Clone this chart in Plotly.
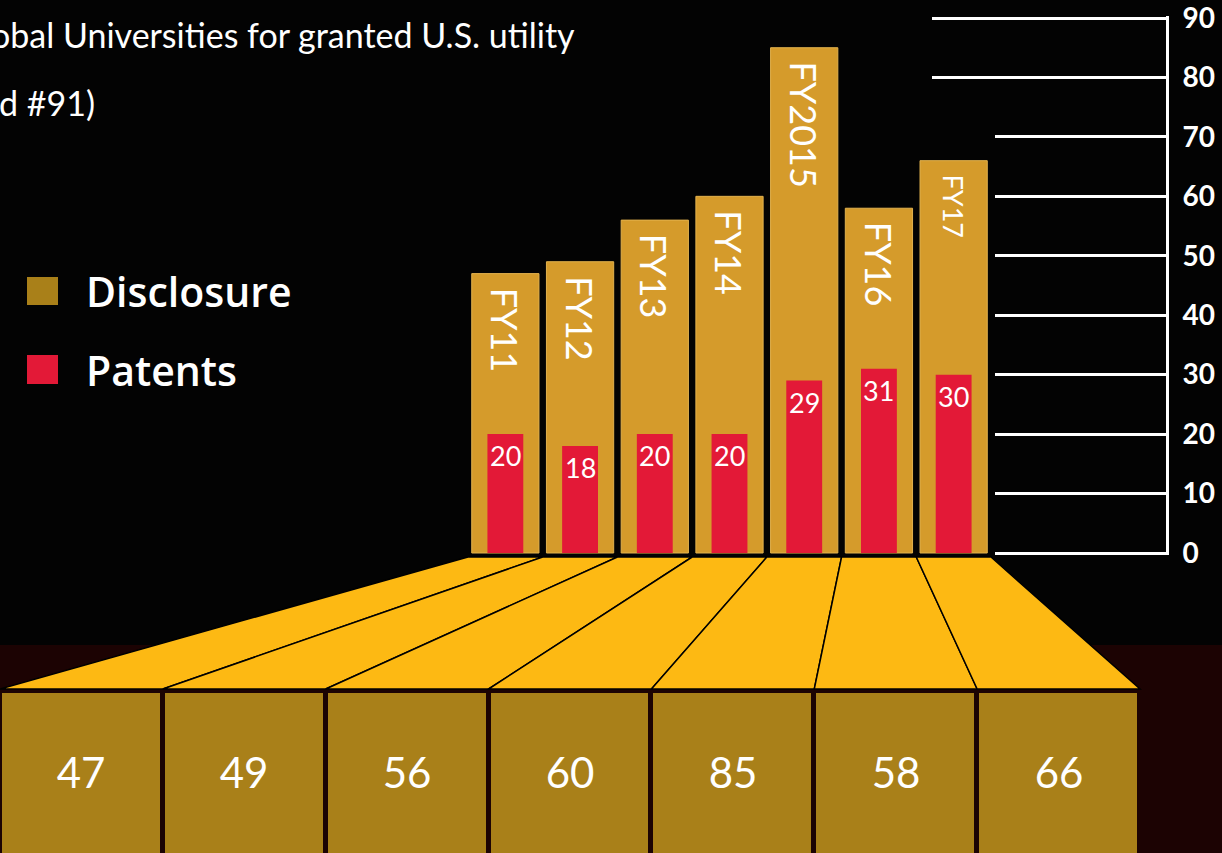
import plotly.graph_objects as go

W, H = 1222, 853

# ---------------- data ----------------
categories = ["FY11", "FY12", "FY13", "FY14", "FY2015", "FY16", "FY17"]
disclosure = [47, 49, 56, 60, 85, 58, 66]
patents = [20, 18, 20, 20, 29, 31, 30]
y_ticks = [0, 10, 20, 30, 40, 50, 60, 70, 80, 90]
y_tick_labels = ["0", "10", "20", "30", "40", "50", "60", "70", "80", "90"]
long_ticks = [80, 90]
legend_names = ["Disclosure", "Patents"]
title_line1 = "obal Universities for granted U.S. utility"
title_line2 = "d #91)"

# ---------------- style ----------------
GOLD = "#D59B2B"
RED = "#E31937"
YELLOW = "#FDB913"
BOX = "#A98019"
BG = "#030303"
BAND = "#1c0303"


def px(x):
    return x / W


def py(y):
    return 1 - y / H


# y axis: value 0 at pixel 553, value 90 at pixel 18; small padding so end ticks show
Y0_PX, Y90_PX = 553, 18
unit = (Y0_PX - Y90_PX) / 90.0
pad = 0.4
y_range = [-pad, 90 + pad]
main_x = [px(468), px(991)]
main_y = [py(Y0_PX + pad * unit), py(Y90_PX - pad * unit)]
box_x = [px(0), px(1140)]
box_y = [py(853), py(693)]
axis_pos = px(1167)

fig = go.Figure()

fig.add_trace(go.Bar(
    x=categories, y=disclosure, width=0.9, name=legend_names[0],
    marker=dict(color=GOLD, line=dict(color="#E3B24E", width=1)),
    xaxis="x", yaxis="y", hoverinfo="skip", showlegend=False,
))
fig.add_trace(go.Bar(
    x=categories, y=patents, width=0.48, name=legend_names[1],
    marker=dict(color=RED, line=dict(width=0)),
    xaxis="x", yaxis="y", hoverinfo="skip", showlegend=False,
))
# invisible trace to keep the overlay axis (long ticks) alive
fig.add_trace(go.Scatter(
    x=categories, y=disclosure, mode="markers", marker=dict(opacity=0),
    xaxis="x", yaxis="y3", hoverinfo="skip", showlegend=False,
))
# bottom value cells
fig.add_trace(go.Heatmap(
    z=[disclosure], x=categories, y=[""],
    colorscale=[[0, BOX], [1, BOX]], showscale=False,
    xgap=5, texttemplate="%{z}",
    textfont=dict(family="Lato", size=42, color="white"),
    xaxis="x2", yaxis="y2", hoverinfo="skip",
))

annotations = []
for c, d in zip(categories, disclosure):
    annotations.append(dict(
        x=c, y=d, xref="x", yref="y", text=c, textangle=90,
        xanchor="center", yanchor="top", yshift=-12, showarrow=False,
        font=dict(family="Lato", size=27 if c == "FY17" else 36, color="white"),
    ))
for c, p in zip(categories, patents):
    annotations.append(dict(
        x=c, y=p, xref="x", yref="y", text=str(p),
        xanchor="center", yanchor="top", yshift=-3, showarrow=False,
        font=dict(family="Lato", size=27, color="white"),
    ))

annotations += [
    dict(x=px(577), y=py(35), xref="paper", yref="paper", text=title_line1,
         xanchor="right", yanchor="middle", showarrow=False,
         font=dict(family="Lato", size=34, color="white")),
    dict(x=0, y=py(103), xref="paper", yref="paper", text=title_line2,
         xanchor="left", yanchor="middle", showarrow=False, xshift=-3,
         font=dict(family="Lato", size=34, color="white")),
    dict(x=px(84), y=py(291), xref="paper", yref="paper", text=legend_names[0],
         xanchor="left", yanchor="middle", showarrow=False,
         font=dict(family="Open Sans", size=41, color="white", weight=600)),
    dict(x=px(84), y=py(370), xref="paper", yref="paper", text=legend_names[1],
         xanchor="left", yanchor="middle", showarrow=False,
         font=dict(family="Open Sans", size=41, color="white", weight=600)),
]

shapes = [
    dict(type="rect", xref="paper", yref="paper", x0=0, x1=1, y0=0, y1=py(645),
         fillcolor=BAND, line=dict(width=0), layer="below"),
]
n = len(categories)
top_y = py(557)
bot_y = py(689)
for i in range(n):
    tl = main_x[0] + (main_x[1] - main_x[0]) * i / n
    tr = main_x[0] + (main_x[1] - main_x[0]) * (i + 1) / n
    bl = box_x[0] + (box_x[1] - box_x[0]) * i / n
    br = box_x[0] + (box_x[1] - box_x[0]) * (i + 1) / n
    shapes.append(dict(
        type="path", xref="paper", yref="paper",
        path=f"M {tl},{top_y} L {tr},{top_y} L {br},{bot_y} L {bl},{bot_y} Z",
        fillcolor=YELLOW, line=dict(color="black", width=1.5), layer="below",
    ))
# legend swatches
shapes += [
    dict(type="rect", xref="paper", yref="paper", x0=px(27), x1=px(58),
         y0=py(305), y1=py(277), fillcolor=BOX, line=dict(width=0)),
    dict(type="rect", xref="paper", yref="paper", x0=px(27), x1=px(58),
         y0=py(384), y1=py(355), fillcolor=RED, line=dict(width=0)),
]

tickfont = dict(family="Lato", size=28, color="white", weight="bold")

fig.update_layout(
    width=W, height=H, margin=dict(l=0, r=0, t=0, b=0, autoexpand=False),
    paper_bgcolor=BG, plot_bgcolor="rgba(0,0,0,0)",
    barmode="overlay", showlegend=False,
    xaxis=dict(domain=main_x, range=[-0.5, 6.5], type="category",
               visible=False, anchor="y", automargin=False),
    yaxis=dict(domain=main_y, range=y_range, anchor="free", position=axis_pos,
               side="right", showline=True, linecolor="white", linewidth=3,
               ticks="inside", ticklen=171, tickwidth=3, tickcolor="white",
               tickvals=y_ticks, ticktext=y_tick_labels, tickfont=tickfont,
               ticklabelstandoff=8, ticklabeloverflow="allow",
               showgrid=False, zeroline=False, automargin=False),
    yaxis3=dict(overlaying="y", range=y_range, anchor="free", position=axis_pos,
                side="right", showline=False, ticks="inside", ticklen=235,
                tickwidth=3, tickcolor="white", tickvals=long_ticks,
                showticklabels=False, showgrid=False, zeroline=False,
                automargin=False),
    xaxis2=dict(domain=box_x, range=[-0.5, 6.5], type="category",
                visible=False, anchor="y2", automargin=False),
    yaxis2=dict(domain=box_y, visible=False, anchor="x2", automargin=False),
    annotations=annotations,
    shapes=shapes,
)

fig.write_html(
    "out.html",
    config={"displayModeBar": False},
    post_script="document.body.style.margin='0';document.body.style.background='#030303';document.body.style.overflow='hidden';",
)
